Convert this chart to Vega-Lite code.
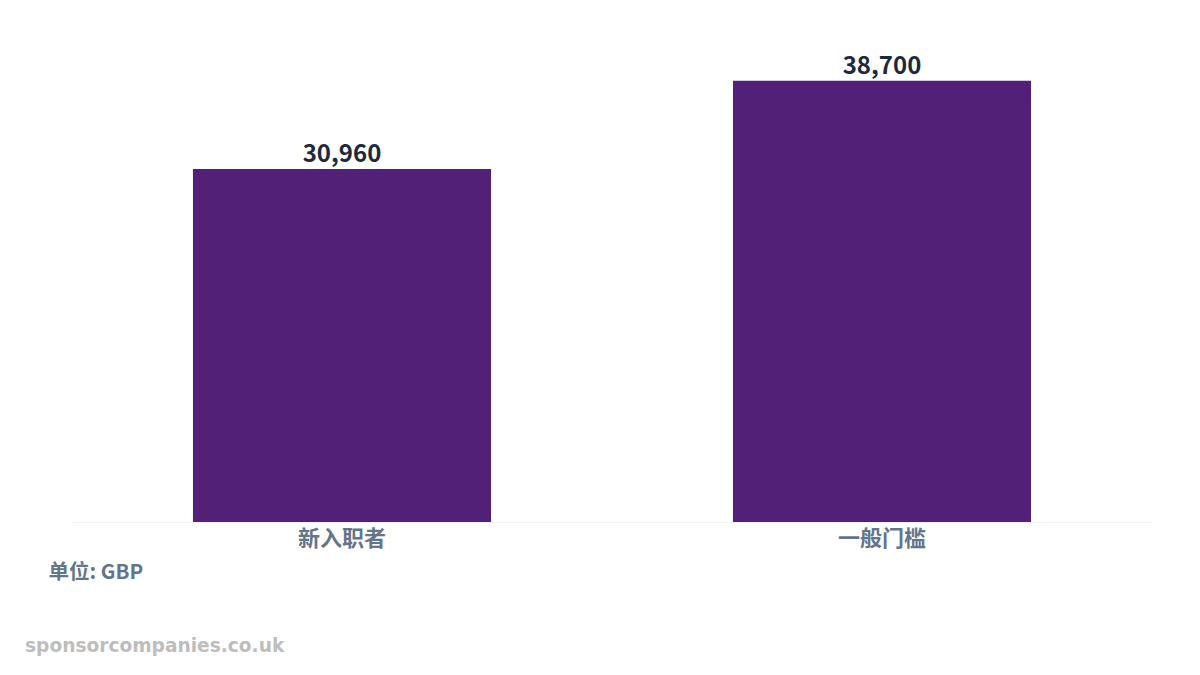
{
  "$schema": "https://vega.github.io/schema/vega-lite/v6.json",
  "autosize": "none",
  "width": 1080,
  "height": 456,
  "padding": {"left": 72, "top": 66, "right": 48, "bottom": 153},
  "background": "white",
  "config": {
    "font": "Noto Sans CJK SC",
    "view": {"stroke": null}
  },
  "title": {
    "text": "sponsorcompanies.co.uk",
    "orient": "bottom",
    "anchor": "start",
    "frame": "group",
    "dx": -47,
    "offset": 54,
    "font": "DejaVu Sans",
    "fontSize": 18.6,
    "fontWeight": "bold",
    "color": "#bdbdbd"
  },
  "data": {
    "values": [
      {"category": "新入职者", "salary": 30960},
      {"category": "一般门槛", "salary": 38700}
    ]
  },
  "encoding": {
    "x": {
      "field": "category",
      "type": "nominal",
      "sort": null,
      "scale": {"paddingInner": 0.448, "paddingOuter": 0.224},
      "axis": {
        "title": "单位: GBP",
        "titleAnchor": "start",
        "titleAlign": "left",
        "titleX": -24,
        "titleY": 40,
        "titleFontSize": 20.5,
        "titleFontWeight": "bold",
        "titleColor": "#64748b",
        "labelAngle": 0,
        "labelFontSize": 22,
        "labelFontWeight": "bold",
        "labelColor": "#64748b",
        "labelPadding": 6,
        "ticks": false,
        "domainColor": "#f1f1f1",
        "domainWidth": 1
      }
    },
    "y": {
      "field": "salary",
      "type": "quantitative",
      "scale": {"domain": [0, 40000], "nice": false},
      "axis": null
    }
  },
  "layer": [
    {
      "mark": {"type": "bar", "color": "#522076"}
    },
    {
      "mark": {
        "type": "text",
        "baseline": "bottom",
        "dy": -2,
        "fontSize": 24,
        "fontWeight": "bold",
        "color": "#1e293b"
      },
      "encoding": {
        "text": {"field": "salary", "type": "quantitative", "format": ","}
      }
    }
  ]
}
